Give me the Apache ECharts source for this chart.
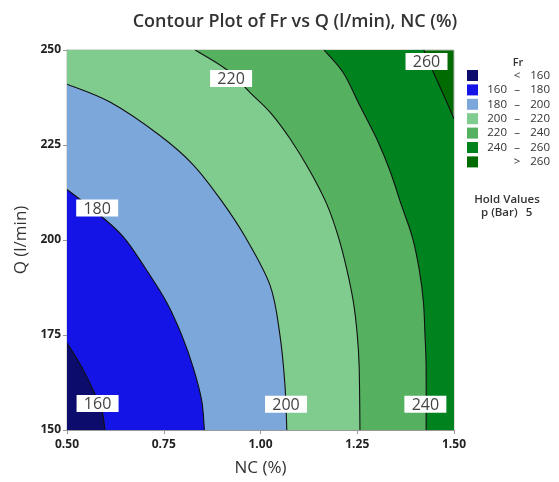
<!DOCTYPE html>
<html>
<head>
<meta charset="utf-8">
<script src="https://cdn.jsdelivr.net/npm/echarts@6/dist/echarts.min.js"></script>
<style>
  html, body { margin: 0; padding: 0; background: #fff; }
  #chart { width: 559px; height: 482px; }
</style>
</head>
<body>
<div id="chart"></div>
<script>
// contour lines, as (NC, Q) points
const nc160 = [0.500, 0.534, 0.568, 0.590, 0.598]
const q160 = [172.9, 167.3, 160.4, 155.2, 150.0]
const nc180 = [0.500, 0.575, 0.645, 0.703, 0.757, 0.796, 0.826, 0.848, 0.855]
const q180 = [213.3, 207.4, 200.9, 192.5, 183.7, 175.1, 166.5, 157.8, 150.0]
const nc200 = [0.500, 0.611, 0.740, 0.826, 0.898, 0.960, 1.025, 1.050, 1.063, 1.068]
const q200 = [241.0, 236.3, 227.5, 219.8, 210.5, 200.9, 188.0, 175.1, 162.1, 150.0]
const nc220 = [0.831, 0.913, 0.973, 1.025, 1.076, 1.128, 1.171, 1.201, 1.223, 1.240, 1.250, 1.255, 1.257]
const q220 = [250.0, 244.8, 238.8, 233.6, 226.7, 218.1, 209.5, 200.9, 192.3, 183.7, 175.1, 166.5, 150.0]
const nc240 = [1.164, 1.214, 1.257, 1.300, 1.335, 1.363, 1.392, 1.410, 1.421, 1.425, 1.428, 1.428]
const q240 = [250.0, 244.0, 235.3, 226.7, 218.1, 209.5, 200.9, 192.3, 183.7, 175.1, 166.5, 150.0]
const nc260 = [1.422, 1.446, 1.472, 1.500]
const q260 = [250.0, 244.3, 238.4, 231.9]

const levels = [160, 180, 200, 220, 240, 260]
const contourNC = [nc160, nc180, nc200, nc220, nc240, nc260]
const contourQ = [q160, q180, q200, q220, q240, q260]

// where the level labels sit
const labelText = ['160', '180', '200', '220', '240', '260']
const labelNC = [0.579, 0.578, 1.066, 0.924, 1.426, 1.429]
const labelQ = [157.0, 208.4, 156.8, 242.5, 156.8, 247.0]

const xTicks = [0.5, 0.75, 1.0, 1.25, 1.5]
const yTicks = [150, 175, 200, 225, 250]

// band colours, lowest first (< 160 ... > 260)
const bandColors = ['#0c0c6c', '#1414e6', '#7ca7da', '#80cc8f', '#55b060', '#00821f', '#006b00']
const bandText = [['', '<', '160'], ['160', '–', '180'], ['180', '–', '200'], ['200', '–', '220'],
  ['220', '–', '240'], ['240', '–', '260'], ['', '>', '260']]

const FONT = '"Open Sans", "Noto Sans", sans-serif'

function smoothPart(pts) {
  let d = ''
  for (let i = 0; i < pts.length - 1; i++) {
    const p0 = pts[i - 1] || pts[i]
    const p1 = pts[i]
    const p2 = pts[i + 1]
    const p3 = pts[i + 2] || p2
    const c1 = [p1[0] + (p2[0] - p0[0]) / 6, p1[1] + (p2[1] - p0[1]) / 6]
    const c2 = [p2[0] - (p3[0] - p1[0]) / 6, p2[1] - (p3[1] - p1[1]) / 6]
    d += ' C' + c1.join(',') + ' ' + c2.join(',') + ' ' + p2.join(',')
  }
  return d
}

// region below contour k gets the band colour just under level k
function renderContour(params, api) {
  const k = api.value(2)
  const nc = contourNC[k]
  const q = contourQ[k]
  const pts = nc.map((x, i) => api.coord([x, q[i]]))
  const bl = api.coord([0.5, 150])
  const tl = api.coord([0.5, 250])
  const br = api.coord([1.5, 150])
  let fill = 'M' + bl.join(',')
  if (nc[0] > 0.5) fill += ' L' + tl.join(',')
  fill += ' L' + pts[0].join(',') + smoothPart(pts)
  if (q[q.length - 1] > 150) fill += ' L' + br.join(',')
  fill += ' Z'
  const line = 'M' + pts[0].join(',') + smoothPart(pts)
  return {
    type: 'group',
    children: [
      { type: 'path', shape: { pathData: fill }, style: { fill: bandColors[k], stroke: null } },
      { type: 'path', shape: { pathData: line }, style: { fill: null, stroke: '#111', lineWidth: 1.1 } }
    ]
  }
}

function renderLabel(params, api) {
  const p = api.coord([api.value(0), api.value(1)])
  const w = 42
  const h = 17
  return {
    type: 'group',
    children: [
      { type: 'rect', shape: { x: p[0] - w / 2, y: p[1] - h / 2, width: w, height: h }, style: { fill: '#fff' } },
      { type: 'text', style: { text: labelText[params.dataIndex], x: p[0], y: p[1] + 1, align: 'center', verticalAlign: 'middle',
        fill: '#444', font: '16px ' + FONT } }
    ]
  }
}

// legend on the right, drawn as graphic elements
const legendItems = [{ type: 'text', x: 518, y: 63, style: { text: 'Fr', align: 'center', verticalAlign: 'middle', fill: '#333', font: '600 11px ' + FONT } }]
bandColors.forEach((c, i) => {
  const y = 75.5 + i * 14.4
  legendItems.push({ type: 'rect', shape: { x: 467, y: y - 5.5, width: 11, height: 11 }, style: { fill: c } })
  legendItems.push({ type: 'text', x: 507, y: y, style: { text: bandText[i][0], align: 'right', verticalAlign: 'middle', fill: '#333', font: '11.5px ' + FONT } })
  legendItems.push({ type: 'text', x: 517, y: y, style: { text: bandText[i][1], align: 'center', verticalAlign: 'middle', fill: '#333', font: '11.5px ' + FONT } })
  legendItems.push({ type: 'text', x: 550, y: y, style: { text: bandText[i][2], align: 'right', verticalAlign: 'middle', fill: '#333', font: '11.5px ' + FONT } })
})
legendItems.push({ type: 'text', x: 507, y: 200, style: { text: 'Hold Values', align: 'center', verticalAlign: 'middle', fill: '#333', font: '600 11.5px ' + FONT } })
legendItems.push({ type: 'text', x: 481, y: 213, style: { text: 'p (Bar)', align: 'left', verticalAlign: 'middle', fill: '#333', font: '600 11.5px ' + FONT } })
legendItems.push({ type: 'text', x: 529, y: 213, style: { text: '5', align: 'center', verticalAlign: 'middle', fill: '#333', font: '600 11.5px ' + FONT } })

const chart = echarts.init(document.getElementById('chart'))
chart.setOption({
  animation: false,
  title: {
    text: 'Contour Plot of Fr vs Q (l/min), NC (%)',
    left: 290,
    textAlign: 'center',
    top: 8,
    textStyle: { fontFamily: FONT, fontSize: 18, fontWeight: 600, color: '#333' }
  },
  grid: {
    left: 67, right: 105, top: 50, bottom: 45,
    show: true,
    backgroundColor: bandColors[6],
    borderColor: '#bbb',
    borderWidth: 1
  },
  xAxis: {
    type: 'value',
    min: xTicks[0],
    max: xTicks[xTicks.length - 1],
    interval: 0.25,
    name: 'NC (%)',
    nameLocation: 'middle',
    nameGap: 30,
    nameTextStyle: { fontFamily: FONT, fontSize: 17, color: '#333' },
    axisLine: { show: true, lineStyle: { color: '#999' } },
    axisTick: { show: true, length: 4, lineStyle: { color: '#999' } },
    splitLine: { show: false },
    axisLabel: { fontFamily: FONT, fontSize: 12, fontWeight: 'bold', color: '#222', margin: 9,
      formatter: v => v.toFixed(2) }
  },
  yAxis: {
    type: 'value',
    min: yTicks[0],
    max: yTicks[yTicks.length - 1],
    interval: 25,
    name: 'Q (l/min)',
    nameLocation: 'middle',
    nameGap: 37,
    nameTextStyle: { fontFamily: FONT, fontSize: 17, color: '#333' },
    axisLine: { show: true, lineStyle: { color: '#999' } },
    axisTick: { show: true, length: 4, lineStyle: { color: '#999' } },
    splitLine: { show: false },
    axisLabel: { fontFamily: FONT, fontSize: 12, fontWeight: 'bold', color: '#222', margin: 6 }
  },
  graphic: legendItems,
  series: [
    {
      type: 'custom',
      renderItem: renderContour,
      clip: true,
      // largest level first so the smaller regions are painted over it
      data: levels.map((l, k) => [contourNC[k][0], contourQ[k][0], k]).reverse()
    },
    {
      type: 'custom',
      renderItem: renderLabel,
      data: labelNC.map((x, i) => [x, labelQ[i]])
    }
  ]
})
</script>
</body>
</html>
